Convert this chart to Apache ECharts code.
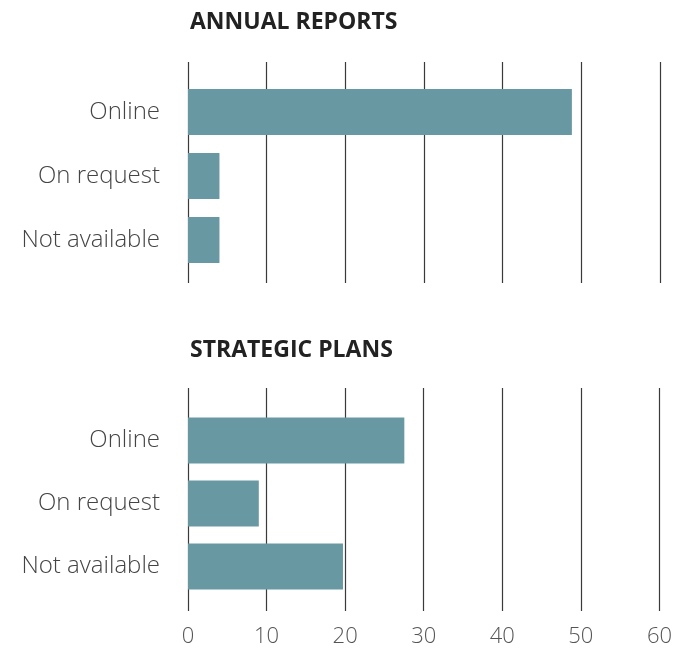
<!DOCTYPE html>
<html>
<head>
<meta charset="utf-8">
<style>
  html, body { margin: 0; padding: 0; background: #fff; }
  #chart { width: 675px; height: 651px; }
</style>
<script src="https://cdn.jsdelivr.net/npm/echarts@6/dist/echarts.min.js"></script>
</head>
<body>
<div id="chart"></div>
<script>
// Availability of documents, two panels sharing the same 0-60 scale
var categories = ['Online', 'On request', 'Not available'];
var annualReports = [48.8, 4, 4];
var strategicPlans = [27.5, 9, 19.7];
var panelTitles = ['ANNUAL REPORTS', 'STRATEGIC PLANS'];
var tickLabels = [0, 10, 20, 30, 40, 50, 60];

var barColor = '#6899a2';
var lineColor = '#3a3a3a';
var fontFamily = '"Open Sans", Lato, sans-serif';

var chart = echarts.init(document.getElementById('chart'));

// grid with only vertical lines (taller than the bar area)
function lineAxis(gridIndex, showLabels) {
    return {
        type: 'value',
        gridIndex: gridIndex,
        min: tickLabels[0],
        max: tickLabels[tickLabels.length - 1],
        interval: 10,
        axisLine: { show: false },
        axisTick: { show: false },
        splitLine: { show: true, lineStyle: { color: lineColor, width: 1.2 } },
        axisLabel: {
            show: showLabels,
            margin: 15,
            fontSize: 22,
            fontWeight: 300,
            color: '#555',
            fontFamily: fontFamily
        }
    };
}

function barAxis(gridIndex) {
    return {
        type: 'value',
        gridIndex: gridIndex,
        min: tickLabels[0],
        max: tickLabels[tickLabels.length - 1],
        interval: 10,
        show: false
    };
}

function catAxis(gridIndex) {
    return {
        type: 'category',
        gridIndex: gridIndex,
        data: categories,
        inverse: true,
        axisLine: { show: false },
        axisTick: { show: false },
        axisLabel: {
            margin: 28,
            fontSize: 24,
            fontWeight: 300,
            color: '#444',
            padding: [5, 0, 0, 0],
            fontFamily: fontFamily
        }
    };
}

var option = {
    animation: false,
    title: [
        {
            text: panelTitles[0], left: 185, top: 6,
            textStyle: { fontSize: 23, fontWeight: 'bold', color: '#222', fontFamily: fontFamily }
        },
        {
            text: panelTitles[1], left: 185, top: 334,
            textStyle: { fontSize: 23, fontWeight: 'bold', color: '#222', fontFamily: fontFamily }
        }
    ],
    grid: [
        { left: 188, right: 15, top: 62, height: 221 },
        { left: 188, right: 15, top: 80, height: 192 },
        { left: 188, right: 15, top: 388, height: 223 },
        { left: 188, right: 15, top: 409, height: 189 }
    ],
    xAxis: [lineAxis(0, false), barAxis(1), lineAxis(2, true), barAxis(3)],
    yAxis: [
        { type: 'category', gridIndex: 0, show: false, data: categories },
        catAxis(1),
        { type: 'category', gridIndex: 2, show: false, data: categories },
        catAxis(3)
    ],
    series: [
        {
            name: panelTitles[0],
            type: 'bar',
            xAxisIndex: 1,
            yAxisIndex: 1,
            data: annualReports,
            barWidth: 46,
            itemStyle: { color: barColor }
        },
        {
            name: panelTitles[1],
            type: 'bar',
            xAxisIndex: 3,
            yAxisIndex: 3,
            data: strategicPlans,
            barWidth: 46,
            itemStyle: { color: barColor }
        }
    ]
};

chart.setOption(option);
</script>
</body>
</html>
